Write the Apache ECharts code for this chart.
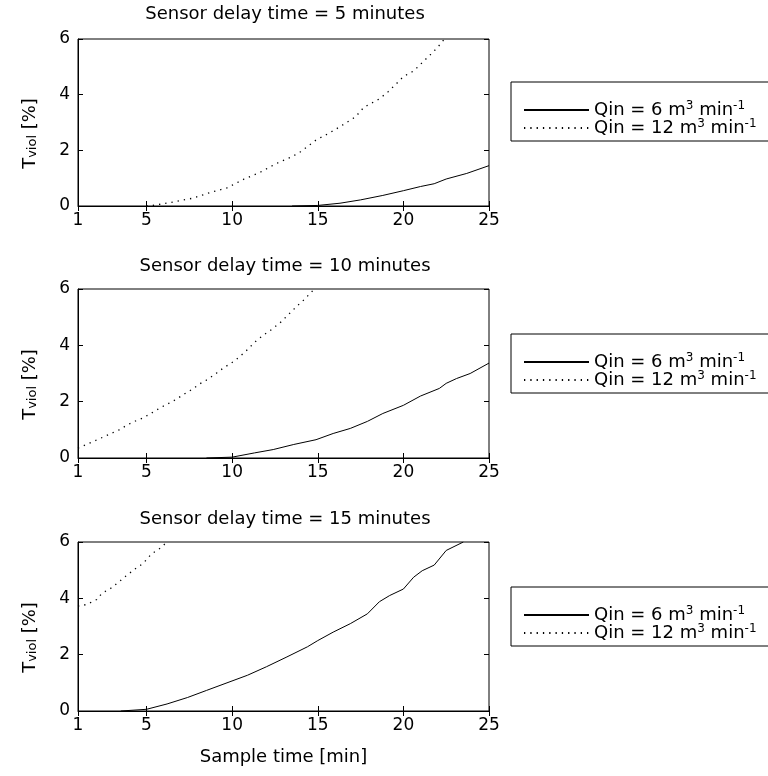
<!DOCTYPE html>
<html>
<head>
<meta charset="utf-8">
<script src="https://cdn.jsdelivr.net/npm/echarts@6/dist/echarts.min.js"></script>
<style>html,body{margin:0;padding:0;background:#fff;}#c{width:768px;height:776px;}</style>
</head>
<body>
<div id="c"></div>
<script>
const xTicks = [1, 5, 10, 15, 20, 25];
const yTicks = [0, 2, 4, 6];
const panelTitles = ['Sensor delay time = 5 minutes', 'Sensor delay time = 10 minutes', 'Sensor delay time = 15 minutes'];
const seriesNames = ['Q6', 'Q12'];
const legendLabels = {
  Q6: '{t|Qin = 6 m}{s|3}{t| min}{s|-1}',
  Q12: '{t|Qin = 12 m}{s|3}{t| min}{s|-1}'
};
const xAxisTitle = 'Sample time [min]';

// delay 5 min
const d5_q6 = [[13.5,0],[15,0.02],[16.3,0.1],[17.5,0.22],[18.8,0.38],[20,0.55],[21,0.7],[21.8,0.8],[22.5,0.97],[23.7,1.17],[25,1.45]];
const d5_q12 = [[5.0,0],[5.5,0.03],[6.6,0.15],[7.7,0.28],[8.7,0.48],[9.7,0.65],[10.7,0.97],[11.6,1.2],[12.6,1.53],[13.5,1.77],[14,1.95],[14.9,2.37],[15.7,2.63],[16.3,2.85],[17.2,3.2],[17.7,3.55],[18.6,3.85],[19.1,4.1],[19.6,4.4],[20,4.65],[20.6,4.85],[21.1,5.15],[21.6,5.45],[22,5.7],[22.4,6.0]];
// delay 10 min
const d10_q6 = [[8.5,0],[10,0.03],[11.3,0.18],[12.4,0.3],[13.6,0.48],[14.9,0.65],[15.9,0.87],[16.9,1.05],[17.9,1.3],[18.8,1.58],[20,1.87],[21,2.2],[22.1,2.47],[22.5,2.65],[23.1,2.82],[23.9,3.0],[25,3.37]];
const d10_q12 = [[1,0.35],[1.9,0.59],[2.5,0.75],[3.4,1.0],[3.9,1.18],[4.3,1.3],[4.8,1.42],[5.3,1.6],[5.8,1.78],[6.7,2.07],[7.2,2.27],[7.7,2.45],[8.1,2.63],[8.6,2.8],[9.1,3.02],[9.5,3.2],[10.1,3.43],[10.5,3.63],[10.9,3.85],[11.3,4.1],[11.8,4.35],[12.3,4.56],[12.8,4.8],[13.3,5.1],[13.8,5.4],[14.2,5.62],[14.8,6.0]];
// delay 15 min
const d15_q6 = [[3.5,0],[5,0.06],[6.2,0.25],[7.4,0.48],[8.5,0.73],[9.7,1.0],[10.9,1.27],[12,1.57],[13.2,1.92],[14.4,2.28],[15,2.5],[15.9,2.8],[16.9,3.1],[17.9,3.45],[18.6,3.88],[19.2,4.1],[20,4.33],[20.6,4.75],[21.1,4.98],[21.8,5.18],[22.5,5.7],[23.5,6.0]];
const d15_q12 = [[1,3.72],[1.5,3.78],[2.1,3.96],[2.4,4.18],[2.9,4.35],[3.4,4.59],[3.8,4.79],[4.3,5.03],[4.8,5.24],[5.3,5.58],[5.8,5.78],[6.2,6.0]];

const panelData = [[d5_q6, d5_q12], [d10_q6, d10_q12], [d15_q6, d15_q12]];

const FONT = 'DejaVu Sans';
const gridTops = [39, 289, 542];
const gridHeights = [167, 169, 169];
const titleTops = [0, 252, 505];
const legendTops = [82, 334, 587];

const chart = echarts.init(document.getElementById('c'), null, {renderer: 'canvas'});
const grids = [], xAxes = [], yAxes = [], series = [], titles = [], legends = [];

for (let p = 0; p < 3; p++) {
  grids.push({left: 78, width: 411, top: gridTops[p], height: gridHeights[p], show: true, borderColor: '#000', borderWidth: 1, containLabel: false});
  titles.push({text: panelTitles[p], left: 280, textAlign: 'center', top: titleTops[p],
    textStyle: {fontFamily: FONT, fontSize: 18, fontWeight: 'normal', color: '#000'}});
  const tickStyle = {show: true, inside: true, length: 5, lineStyle: {color: '#000', width: 1}};
  xAxes.push({type: 'value', gridIndex: p, min: 1, max: 25, position: 'bottom',
    axisLine: {show: true, lineStyle: {color: '#000', width: 1}},
    axisTick: Object.assign({customValues: xTicks}, tickStyle),
    axisLabel: {customValues: xTicks, color: '#000', fontFamily: FONT, fontSize: 17, margin: 6},
    splitLine: {show: false},
    name: p === 2 ? xAxisTitle : '', nameLocation: 'middle', nameGap: 37,
    nameTextStyle: {fontFamily: FONT, fontSize: 18, color: '#000'}});
  xAxes.push({type: 'value', gridIndex: p, min: 1, max: 25, position: 'top',
    axisLine: {show: false}, axisTick: Object.assign({customValues: xTicks}, tickStyle),
    axisLabel: {show: false}, splitLine: {show: false}});
  yAxes.push({type: 'value', gridIndex: p, min: 0, max: 6, interval: 2, position: 'left',
    axisLine: {show: true, lineStyle: {color: '#000', width: 1}},
    axisTick: tickStyle,
    axisLabel: {color: '#000', fontFamily: FONT, fontSize: 17, margin: 8},
    splitLine: {show: false},
    name: '{a|T}{b|viol}{a| [%]}', nameLocation: 'middle', nameGap: 39, nameRotate: 90,
    nameTextStyle: {fontFamily: FONT, color: '#000', padding: [0, 22, 0, 0],
      rich: {a: {fontFamily: FONT, fontSize: 18, lineHeight: 18, verticalAlign: 'top', color: '#000'},
             b: {fontFamily: FONT, fontSize: 13, lineHeight: 13, verticalAlign: 'bottom', padding: [9, 0, 0, 0], color: '#000'}}}});
  yAxes.push({type: 'value', gridIndex: p, min: 0, max: 6, interval: 2, position: 'right',
    axisLine: {show: false}, axisTick: tickStyle, axisLabel: {show: false}, splitLine: {show: false}});

  legends.push({data: seriesNames, orient: 'vertical', left: 511, top: legendTops[p],
    itemWidth: 65, itemHeight: 14, itemGap: -1, padding: [18, 14, 4, 12],
    borderColor: '#000', borderWidth: 1, backgroundColor: '#fff', selectedMode: false,
    itemStyle: {opacity: 0, borderWidth: 0},
    formatter: n => legendLabels[n],
    textStyle: {fontFamily: FONT, fontSize: 18, color: '#000',
      rich: {t: {fontFamily: FONT, fontSize: 18, lineHeight: 20, color: '#000'},
             s: {fontFamily: FONT, fontSize: 12, verticalAlign: 'top', lineHeight: 10, color: '#000'}}}});

  series.push({name: 'Q6', type: 'line', xAxisIndex: 2 * p, yAxisIndex: 2 * p, data: panelData[p][0],
    symbol: 'none', silent: true, lineStyle: {color: '#000', width: 1, type: 'solid'}, itemStyle: {color: '#000'}});
  series.push({name: 'Q12', type: 'line', xAxisIndex: 2 * p, yAxisIndex: 2 * p, data: panelData[p][1],
    symbol: 'none', silent: true, lineStyle: {color: '#000', width: 1.3, type: [1.3, 5]}, itemStyle: {color: '#000'}});
}

chart.setOption({
  animation: false,
  backgroundColor: '#fff',
  title: titles,
  grid: grids,
  xAxis: xAxes,
  yAxis: yAxes,
  legend: legends,
  series: series
});
</script>
</body>
</html>
